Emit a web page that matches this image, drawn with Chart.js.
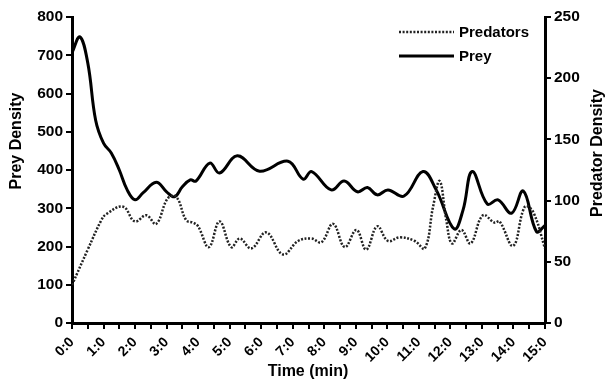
<!DOCTYPE html>
<html>
<head>
<meta charset="utf-8">
<script src="https://cdn.jsdelivr.net/npm/chart.js@4/dist/chart.umd.min.js"></script>
<style>
  html, body { margin: 0; padding: 0; background: #fff; }
  #wrap { width: 606px; height: 382px; }
</style>
</head>
<body>
<div id="wrap"><canvas id="chart" width="606" height="382"></canvas></div>
<script>
// Prey density (left axis), time in minutes
const preyTimes = [0, 0.25, 0.5, 0.75, 1.0, 1.25, 1.5, 1.75, 2.0, 2.25, 2.67, 3.0, 3.25, 3.5, 3.75, 3.93,
  4.37, 4.68, 5.24, 5.95, 6.85, 7.33, 7.6, 8.22, 8.63, 9.05, 9.37, 9.68, 10.02, 10.53, 11.13, 11.55,
  12.12, 12.4, 12.69, 13.17, 13.51, 13.94, 14.31, 14.73, 15];
const preyValues = [706, 748, 680, 530, 470, 444, 400, 348, 322, 340, 368, 343, 330, 356, 374, 371,
  418, 392, 437, 397, 423, 376, 396, 348, 371, 343, 354, 335, 348, 332, 396, 348,
  246, 295, 396, 311, 322, 287, 345, 239, 255];

// Predator density (right axis)
const predTimes = [0, 0.5, 0.93, 1.09, 1.62, 1.99, 2.36, 2.67, 3.04, 3.31, 3.62, 3.84, 4.0, 4.34, 4.68,
  5.05, 5.32, 5.69, 6.16, 6.69, 7.17, 7.59, 7.91, 8.28, 8.65, 9.02, 9.33, 9.68, 10.02, 10.39, 10.87,
  11.19, 11.45, 11.66, 11.87, 12.05, 12.35, 12.64, 13.03, 13.4, 13.56, 13.99, 14.36, 14.62, 15];
const predValues = [31, 60, 84, 89, 95, 83, 88, 81, 102, 103, 84, 82, 79, 62, 83,
  62, 69, 61, 74, 56, 67, 69, 66, 81, 62, 76, 60, 79, 67, 70, 67,
  61, 95, 116, 84, 65, 76, 65, 88, 82, 83, 63, 95, 91, 61];

const seriesNames = ['Predators', 'Prey'];
const axisTitles = { x: 'Time (min)', yLeft: 'Prey Density', yRight: 'Predator Density' };

const FONT = "'Liberation Sans', Arial, sans-serif";
const predDash = [2, 1.6];

const toPoints = (xs, ys) => xs.map((x, i) => ({ x, y: ys[i] }));

// axis titles and legend drawn by hand so they sit where the original has them
const overlay = {
  id: 'overlay',
  afterDraw(chart) {
    const ctx = chart.ctx;
    ctx.save();
    ctx.fillStyle = '#000';
    ctx.font = 'bold 16px ' + FONT;
    ctx.textAlign = 'center';
    ctx.textBaseline = 'middle';

    ctx.fillText(axisTitles.x, 308, 372);

    ctx.save();
    ctx.translate(17, 141);
    ctx.rotate(-Math.PI / 2);
    ctx.fillText(axisTitles.yLeft, 0, 0);
    ctx.restore();

    ctx.save();
    ctx.translate(598, 153);
    ctx.rotate(-Math.PI / 2);
    ctx.fillText(axisTitles.yRight, 0, 0);
    ctx.restore();

    // legend
    ctx.font = 'bold 15px ' + FONT;
    ctx.textAlign = 'left';
    const rows = [
      { label: seriesNames[0], y: 32, dash: predDash, width: 2.5, color: '#222' },
      { label: seriesNames[1], y: 56, dash: [], width: 3, color: '#000' }
    ];
    rows.forEach(r => {
      ctx.beginPath();
      ctx.setLineDash(r.dash);
      ctx.lineWidth = r.width;
      ctx.strokeStyle = r.color;
      ctx.moveTo(399, r.y);
      ctx.lineTo(454, r.y);
      ctx.stroke();
      ctx.setLineDash([]);
      ctx.fillText(r.label, 459, r.y + 1);
    });
    ctx.restore();
  }
};

const tickFont = { family: FONT, size: 15.5, weight: 'bold' };

new Chart(document.getElementById('chart'), {
  type: 'line',
  data: {
    datasets: [
      {
        label: seriesNames[0],
        data: toPoints(predTimes, predValues),
        yAxisID: 'yRight',
        borderColor: '#222',
        borderWidth: 2.5,
        borderDash: predDash,
        pointRadius: 0,
        tension: 0.4,
        fill: false
      },
      {
        label: seriesNames[1],
        data: toPoints(preyTimes, preyValues),
        yAxisID: 'yLeft',
        borderColor: '#000',
        borderWidth: 3,
        pointRadius: 0,
        tension: 0.4,
        fill: false
      }
    ]
  },
  options: {
    responsive: false,
    animation: false,
    layout: { padding: { top: 17, left: 0, right: 0, bottom: 0 } },
    plugins: {
      legend: { display: false },
      tooltip: { enabled: false }
    },
    scales: {
      x: {
        type: 'linear',
        min: 0,
        max: 15,
        afterFit: s => { s.height = 59; },
        border: { display: true, color: '#000', width: 3 },
        grid: { drawOnChartArea: false, drawTicks: true, tickLength: 6, color: '#000', lineWidth: 2 },
        ticks: {
          stepSize: 0.5,
          autoSkip: false,
          maxRotation: 45,
          minRotation: 45,
          padding: 5,
          color: '#000',
          font: { family: FONT, size: 14, weight: 'bold' },
          callback: v => Number.isInteger(v) ? v + ':0' : ''
        }
      },
      yLeft: {
        position: 'left',
        min: 0,
        max: 800,
        afterFit: s => { s.width = 72; },
        border: { display: true, color: '#000', width: 3 },
        grid: { drawOnChartArea: false, drawTicks: true, tickLength: 6, color: '#000', lineWidth: 2 },
        ticks: { stepSize: 100, padding: 3, color: '#000', font: tickFont }
      },
      yRight: {
        position: 'right',
        min: 0,
        max: 250,
        afterFit: s => { s.width = 61; },
        border: { display: true, color: '#000', width: 3 },
        grid: { drawOnChartArea: false, drawTicks: true, tickLength: 6, color: '#000', lineWidth: 2 },
        ticks: { stepSize: 50, padding: 3, color: '#000', font: tickFont }
      }
    }
  },
  plugins: [overlay]
});
</script>
</body>
</html>
